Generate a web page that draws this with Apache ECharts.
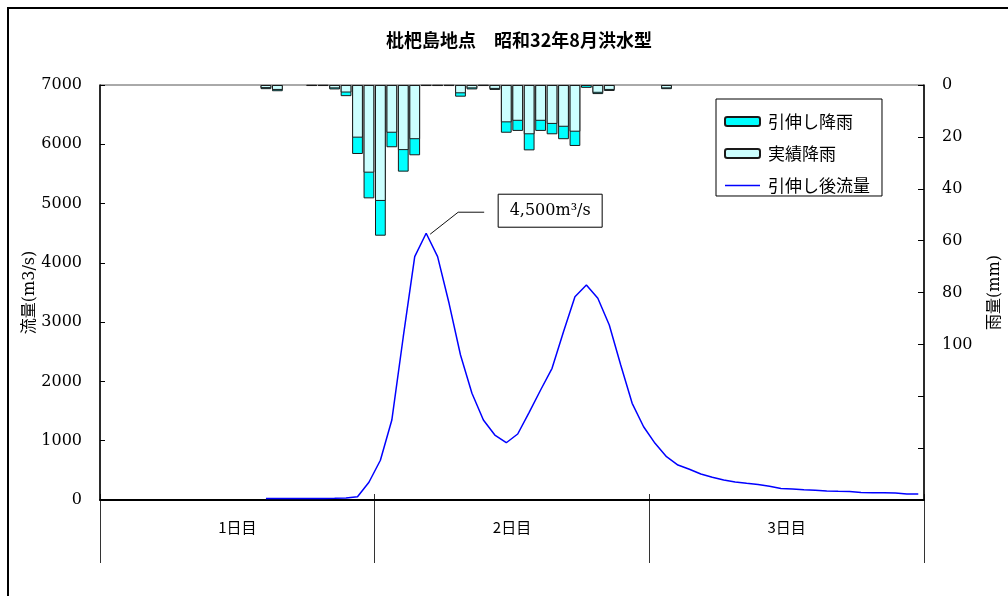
<!DOCTYPE html>
<html>
<head>
<meta charset="utf-8">
<script src="https://cdn.jsdelivr.net/npm/echarts@6/dist/echarts.min.js"></script>
<style>
  html, body { margin: 0; padding: 0; background: #ffffff; }
  #chart { width: 1008px; height: 596px; }
</style>
</head>
<body>
<div id="chart"></div>
<script>
// Flood hydrograph and hyetograph at Biwajima, August 1957 (Showa 32) type flood
const titleText = '枇杷島地点　昭和32年8月洪水型';
const days = ['1日目', '2日目', '3日目'];
const hours = Array.from({ length: 72 }, (_, i) => i + 1);

const flowTicks = [0, 1000, 2000, 3000, 4000, 5000, 6000, 7000];
const rainTicks = [0, 20, 40, 60, 80, 100];

// Hourly discharge after stretching (m3/s), hours 1..72
const flow = [
  null, null, null, null, null, null, null, null, null, null, null, null,
  null, null, 25, 25, 25, 25, 25, 25, 28, 35, 56, 299,
  670, 1349, 2754, 4104, 4500, 4104, 3318, 2446, 1800, 1349, 1096, 966,
  1113, 1479, 1855, 2221, 2839, 3429, 3626, 3402, 2952, 2277, 1631, 1236,
  956, 730, 590, 518, 439, 383, 337, 304, 282, 261, 231, 194,
  186, 172, 165, 152, 147, 143, 127, 123, 123, 118, 101, 101
];

// Hourly rainfall after stretching (mm)
const rainStretched = [
  null, null, null, null, null, null, null, null, null, null, null, null,
  null, null, 1.6, 2.4, null, null, 0.4, 0.4, 1.7, 4.3, 26.6, 43.7,
  58.1, 24.0, 33.4, 27.1, 0.4, 0.4, 0.4, 4.5, 1.7, 0.4, 1.9, 18.4,
  17.7, 25.2, 17.7, 19.0, 20.9, 23.5, 1.1, 3.5, 2.3, null, null, null,
  null, 1.6, null, null, null, null, null, null, null, null, null, null,
  null, null, null, null, null, null, null, null, null, null, null, null
];

// Hourly observed rainfall (mm)
const rainObserved = [
  null, null, null, null, null, null, null, null, null, null, null, null,
  null, null, 1.2, 1.9, null, null, 0.3, 0.3, 1.3, 2.9, 20.3, 33.8,
  44.7, 18.4, 25.1, 20.9, 0.3, 0.3, 0.3, 3.2, 1.3, 0.3, 1.5, 14.4,
  13.8, 19.0, 13.8, 15.0, 16.1, 18.0, 0.4, 3.0, 1.9, null, null, null,
  null, 1.3, null, null, null, null, null, null, null, null, null, null,
  null, null, null, null, null, null, null, null, null, null, null, null
];

const seriesNames = ['引伸し降雨', '実績降雨', '引伸し後流量'];

const serif = "'DejaVu Serif', 'Noto Sans CJK JP', serif";
const gothic = "'Noto Sans CJK JP', sans-serif";

const chart = echarts.init(document.getElementById('chart'), null, { renderer: 'canvas' });

chart.setOption({
  animation: false,
  backgroundColor: '#ffffff',
  title: {
    text: titleText,
    left: 514,
    top: 26,
    textAlign: 'center',
    textStyle: { fontFamily: gothic, fontSize: 18, fontWeight: 'bold', color: '#000' }
  },
  legend: {
    data: [
      { name: seriesNames[0] },
      { name: seriesNames[1] },
      { name: seriesNames[2], icon: 'path://M0,0H70V3H0Z' }
    ],
    orient: 'vertical',
    left: 716,
    top: 99,
    itemWidth: 35,
    itemHeight: 9,
    itemGap: 15,
    padding: [14, 12, 2, 8],
    borderColor: '#000',
    borderWidth: 1,
    backgroundColor: '#fff',
    textStyle: { fontFamily: gothic, fontSize: 17, color: '#000', padding: [0, 0, 0, 3] }
  },
  grid: [
    {
      left: 100,
      right: 84,
      top: 85,
      bottom: 96,
      outerBoundsMode: 'none',
      show: true,
      borderColor: '#555',
      borderWidth: 1,
      backgroundColor: 'transparent'
    },
    {
      // band under the plot carrying the day labels and day separators
      left: 100,
      right: 84,
      top: 494,
      bottom: 33,
      outerBoundsMode: 'none',
      show: false
    }
  ],
  xAxis: [
    {
      type: 'category',
      gridIndex: 0,
      data: hours,
      position: 'bottom',
      boundaryGap: true,
      axisLine: { show: true, lineStyle: { color: '#000', width: 2 } },
      axisTick: { show: false },
      axisLabel: { show: false },
      splitLine: { show: false }
    },
    {
      type: 'category',
      gridIndex: 1,
      data: days,
      position: 'bottom',
      boundaryGap: true,
      axisLine: { show: false },
      axisTick: { show: false },
      axisLabel: { inside: true, margin: 28, fontFamily: gothic, fontSize: 15, color: '#000' },
      splitLine: { show: true, interval: 0, lineStyle: { color: '#333', width: 1 } }
    }
  ],
  yAxis: [
    {
      type: 'value',
      gridIndex: 0,
      position: 'left',
      min: flowTicks[0],
      max: flowTicks[flowTicks.length - 1],
      interval: 1000,
      name: '流量(m3/s)',
      nameLocation: 'middle',
      nameGap: 62,
      nameRotate: 90,
      nameMoveOverlap: false,
      nameTextStyle: { fontFamily: serif, fontSize: 16, color: '#000' },
      axisLine: { show: true, lineStyle: { color: '#000', width: 1.5 } },
      axisTick: { show: true, inside: true, length: 5, lineStyle: { color: '#000' } },
      axisLabel: {
        margin: 18,
        fontFamily: serif,
        fontSize: 16,
        color: '#000',
        formatter: (v) => String(v)
      },
      splitLine: { show: false }
    },
    {
      type: 'value',
      gridIndex: 0,
      position: 'right',
      inverse: true,
      min: 0,
      max: 160,
      interval: 20,
      name: '雨量(mm)',
      nameLocation: 'middle',
      nameGap: 63,
      nameRotate: 90,
      nameMoveOverlap: false,
      nameTextStyle: { fontFamily: serif, fontSize: 16, color: '#000' },
      axisLine: { show: true, lineStyle: { color: '#000', width: 1.5 } },
      axisTick: { show: true, inside: true, length: 6, lineStyle: { color: '#000' } },
      axisLabel: {
        margin: 18,
        fontFamily: serif,
        fontSize: 16,
        color: '#000',
        formatter: (v) => (rainTicks.indexOf(v) >= 0 ? String(v) : '')
      },
      splitLine: { show: false }
    },
    {
      type: 'value',
      gridIndex: 1,
      show: false
    }
  ],
  series: [
    {
      name: seriesNames[0],
      type: 'bar',
      xAxisIndex: 0,
      yAxisIndex: 1,
      data: rainStretched,
      barCategoryGap: '6%',
      barGap: '-100%',
      itemStyle: { color: '#00ffff', borderColor: '#1a1a1a', borderWidth: 1 },
      z: 2
    },
    {
      name: seriesNames[1],
      type: 'bar',
      xAxisIndex: 0,
      yAxisIndex: 1,
      data: rainObserved,
      barCategoryGap: '6%',
      barGap: '-100%',
      itemStyle: { color: '#ccffff', borderColor: '#1a1a1a', borderWidth: 1 },
      z: 3
    },
    {
      name: seriesNames[2],
      type: 'line',
      xAxisIndex: 0,
      yAxisIndex: 0,
      data: flow,
      symbol: 'none',
      showSymbol: false,
      connectNulls: false,
      lineStyle: { color: '#0000ff', width: 1.5 },
      itemStyle: { color: '#0000ff' },
      z: 4
    }
  ],
  graphic: [
    {
      id: 'frame',
      type: 'rect',
      silent: true,
      shape: { x: 8, y: 8, width: 1100, height: 700 },
      style: { fill: 'none', stroke: '#000', lineWidth: 2 },
      z: 100
    }
  ]
});

// Callout for the peak discharge, placed from the peak point's pixel position
const peakVal = Math.max(...flow.filter((v) => v != null));
const peakIdx = flow.indexOf(peakVal);
const [px, py] = chart.convertToPixel({ xAxisIndex: 0, yAxisIndex: 0 }, [peakIdx, peakVal]);
const peakLabel = peakVal.toLocaleString('en-US') + 'm³/s';

chart.setOption({
  graphic: [
    {
      id: 'peakLeader',
      type: 'polyline',
      silent: true,
      shape: { points: [[px + 4, py + 1], [px + 32, py - 21], [px + 58, py - 21]] },
      style: { fill: 'none', stroke: '#111', lineWidth: 1 },
      z: 100
    },
    {
      id: 'peakBox',
      type: 'rect',
      silent: true,
      shape: { x: px + 72, y: py - 39, width: 104, height: 33 },
      style: { fill: '#fff', stroke: '#000', lineWidth: 1 },
      z: 100
    },
    {
      id: 'peakText',
      type: 'text',
      silent: true,
      x: px + 124,
      y: py - 22,
      style: {
        text: peakLabel,
        font: "16px 'DejaVu Serif', serif",
        fill: '#000',
        align: 'center',
        verticalAlign: 'middle'
      },
      z: 101
    }
  ]
});
</script>
</body>
</html>
